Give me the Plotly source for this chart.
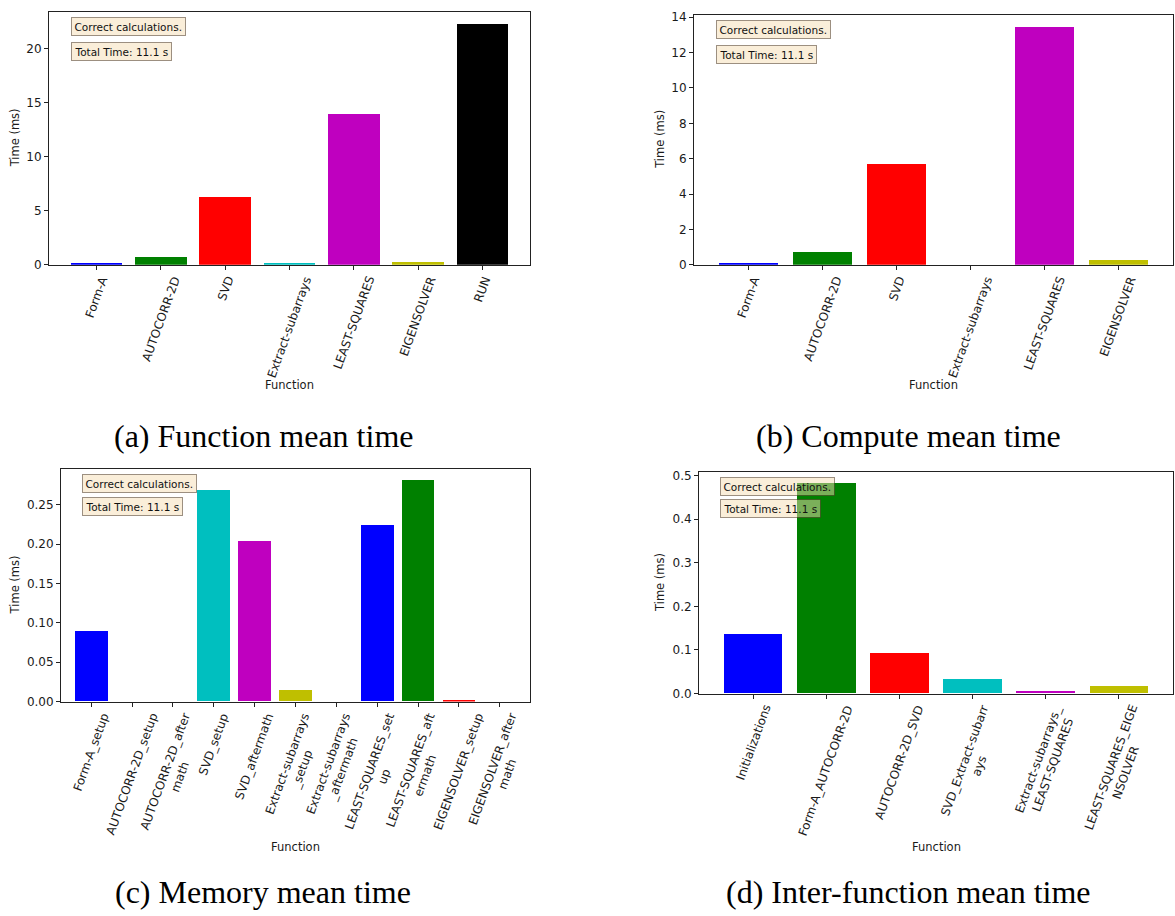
import plotly.graph_objects as go

W, H = 1175, 916

# ---- data -------------------------------------------------------------
function_names = ["Form-A", "AUTOCORR-2D", "SVD", "Extract-subarrays",
                  "LEAST-SQUARES", "EIGENSOLVER", "RUN"]
function_times = [0.15, 0.77, 6.23, 0.10, 13.98, 0.30, 22.25]

compute_names = ["Form-A", "AUTOCORR-2D", "SVD", "Extract-subarrays",
                 "LEAST-SQUARES", "EIGENSOLVER"]
compute_times = [0.06, 0.76, 5.70, 0.0, 13.46, 0.30]

memory_names = ["Form-A_setup", "AUTOCORR-2D_setup", "AUTOCORR-2D_aftermath",
                "SVD_setup", "SVD_aftermath", "Extract-subarrays_setup",
                "Extract-subarrays_aftermath", "LEAST-SQUARES_setup",
                "LEAST-SQUARES_aftermath", "EIGENSOLVER_setup",
                "EIGENSOLVER_aftermath"]
memory_times = [0.089, 0.0, 0.0, 0.268, 0.203, 0.0146, 0.0, 0.2245,
                0.281, 0.001, 0.0]

inter_names = ["Initializations", "Form-A_AUTOCORR-2D", "AUTOCORR-2D_SVD",
               "SVD_Extract-subarrays", "Extract-subarrays_LEAST-SQUARES",
               "LEAST-SQUARES_EIGENSOLVER"]
inter_times = [0.137, 0.483, 0.093, 0.033, 0.005, 0.0157]

captions = ["(a) Function mean time", "(b) Compute mean time",
            "(c) Memory mean time", "(d) Inter-function mean time"]
status_text = "Correct calculations."
total_text = "Total Time: 11.1 s"

# matplotlib single-letter colour cycle b, g, r, c, m, y, k
cycle = ["#0000ff", "#008000", "#ff0000", "#00bfbf", "#bf00bf", "#bfbf00", "#000000"]


def wrap(label, n):
    parts = [label[i:i + n] for i in range(0, len(label), n)]
    return "<br>".join(parts)


# panel geometry in pixels: axes box (left, right, top, bottom),
# x of the y title, y of the x title, caption centre
panels = [
    dict(names=function_names, vals=function_times, box=(49, 530, 8, 264),
         wrapn=40, dtick=5, fmt="d", ytx=15, xty=386, cap=(263, 437)),
    dict(names=compute_names, vals=compute_times, box=(694, 1173, 11, 264),
         wrapn=40, dtick=2, fmt="d", ytx=660, xty=386, cap=(908, 437)),
    dict(names=memory_names, vals=memory_times, box=(61, 530, 471, 706),
         wrapn=17, dtick=0.05, fmt=".2f", ytx=15, xty=853, cap=(263, 899)),
    dict(names=inter_names, vals=inter_times, box=(699, 1173, 474, 698),
         wrapn=18, dtick=0.1, fmt=".1f", ytx=660, xty=853, cap=(908, 899)),
]

fig = go.Figure()
annotations = []
tick_font = dict(family="DejaVu Sans", size=12, color="#1a1a1a")
label_font = dict(family="DejaVu Sans", size=11.5, color="#1a1a1a")

for i, p in enumerate(panels):
    k = "" if i == 0 else str(i + 1)
    xa, ya = "x" + k, "y" + k
    left, right, top, bottom = p["box"]
    n = len(p["names"])
    idx = list(range(n))

    fig.add_trace(go.Bar(
        x=idx, y=p["vals"], width=0.8,
        marker=dict(color=[cycle[j % len(cycle)] for j in idx], line=dict(width=0)),
        xaxis=xa, yaxis=ya, showlegend=False, hoverinfo="skip"))

    ymax = max(p["vals"]) * 1.05
    fig.layout["xaxis" + k] = dict(
        domain=[left / W, right / W], anchor=ya, range=[-0.74, n - 1 + 0.74],
        tickmode="array", tickvals=idx, showticklabels=False,
        ticks="outside", ticklen=4, tickcolor="#222222",
        showline=True, linecolor="#222222", linewidth=1, mirror=True,
        showgrid=False, zeroline=False, fixedrange=True)
    fig.layout["yaxis" + k] = dict(
        domain=[1 - bottom / H, 1 - top / H], anchor=xa, range=[0, ymax],
        dtick=p["dtick"], tick0=0, tickformat=p["fmt"], tickfont=tick_font,
        ticks="outside", ticklen=4, tickcolor="#222222",
        showline=True, linecolor="#222222", linewidth=1, mirror=True,
        showgrid=False, zeroline=False, fixedrange=True)

    # rotated category labels
    for j, name in enumerate(p["names"]):
        annotations.append(dict(
            x=j, y=0, xref=xa, yref=ya + " domain", yshift=-7,
            text=wrap(name, p["wrapn"]), textangle=-70, align="center",
            xanchor="center", yanchor="top", showarrow=False, font=tick_font))

    # axis titles
    annotations.append(dict(
        x=(left + right) / 2 / W, y=1 - p["xty"] / H, xref="paper", yref="paper",
        text="Function", showarrow=False, font=label_font,
        xanchor="center", yanchor="middle"))
    annotations.append(dict(
        x=p["ytx"] / W, y=1 - (top + bottom) / 2 / H, xref="paper", yref="paper",
        text="Time (ms)", textangle=-90, showarrow=False, font=label_font,
        xanchor="center", yanchor="middle"))

    # status boxes
    for txt, yy in ((status_text, 0.978), (total_text, 0.88)):
        annotations.append(dict(
            x=0.045, y=yy, xref=xa + " domain", yref=ya + " domain",
            text=txt, showarrow=False, xanchor="left", yanchor="top",
            font=dict(family="DejaVu Sans", size=10.5, color="#111111"),
            bgcolor="rgba(245,222,179,0.5)", bordercolor="rgba(60,40,20,0.5)",
            borderwidth=1, borderpad=2.5))

    # sub-figure caption
    cx, cy = p["cap"]
    annotations.append(dict(
        x=cx / W, y=1 - cy / H, xref="paper", yref="paper", text=captions[i],
        showarrow=False, xanchor="center", yanchor="middle",
        font=dict(family="Liberation Serif", size=32, color="#000000")))

fig.update_layout(
    width=W, height=H, margin=dict(l=0, r=0, t=0, b=0),
    paper_bgcolor="white", plot_bgcolor="white",
    annotations=annotations, bargap=0)

fig.write_html("out.html", config={"displayModeBar": False})
